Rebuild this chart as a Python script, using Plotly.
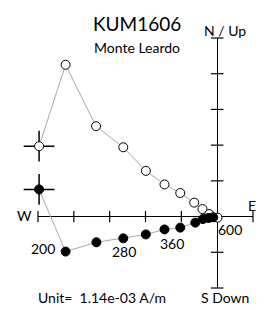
import plotly.graph_objects as go

# Horizontal projection (filled): East, North
h_east = [-4.97, -4.23, -3.37, -2.62, -1.99, -1.47, -1.03, -0.61, -0.40, -0.24, -0.11]
h_north = [0.76, -0.98, -0.72, -0.61, -0.50, -0.36, -0.31, -0.17, -0.07, -0.04, -0.02]
# Vertical projection (open): East, Up
v_east = [-4.97, -4.23, -3.38, -2.62, -1.99, -1.47, -1.03, -0.64, -0.41, -0.22, 0.01]
v_up = [1.97, 4.25, 2.53, 1.94, 1.28, 0.90, 0.66, 0.39, 0.21, 0.07, -0.03]

step_labels = ["200", "280", "360", "600"]
label_index = [1, 3, 5, 10]

x_ticks = [-5, -4, -3, -2, -1, 1]
y_ticks = [-2, -1, 1, 2, 3, 4, 5]

FONT = "Lato"
GRAY = "#b0a6a6"

fig = go.Figure()

# axis tick marks
fig.add_trace(go.Scatter(x=x_ticks, y=[0] * len(x_ticks), mode="markers",
                         marker=dict(symbol="line-ns", size=8, line=dict(color="black", width=1.2)),
                         cliponaxis=False, hoverinfo="skip"))
fig.add_trace(go.Scatter(x=[0] * len(y_ticks), y=y_ticks, mode="markers",
                         marker=dict(symbol="line-ew", size=9, line=dict(color="black", width=1.2)),
                         cliponaxis=False, hoverinfo="skip"))

# crosshairs on first points
fig.add_trace(go.Scatter(x=[h_east[0], v_east[0]], y=[h_north[0], v_up[0]], mode="markers",
                         marker=dict(symbol="cross-thin", size=22, line=dict(color="black", width=1.5)),
                         cliponaxis=False, hoverinfo="skip"))

# vertical projection (open)
fig.add_trace(go.Scatter(x=v_east, y=v_up, mode="lines+markers",
                         line=dict(color=GRAY, width=1),
                         marker=dict(symbol="circle", size=9, color="white",
                                     line=dict(color="black", width=1)),
                         cliponaxis=False))
# horizontal projection (filled)
fig.add_trace(go.Scatter(x=h_east, y=h_north, mode="lines+markers",
                         line=dict(color=GRAY, width=1),
                         marker=dict(symbol="circle", size=9, color="black",
                                     line=dict(color="black", width=1)),
                         cliponaxis=False))

annotations = []
offsets = [(-23, 3), (1, -13), (8, -14), (17, -12)]
for lab, idx, (dx, dy) in zip(step_labels, label_index, offsets):
    annotations.append(dict(x=h_east[idx], y=h_north[idx], text=lab, showarrow=False,
                            xshift=dx, yshift=dy, font=dict(family=FONT, size=14, color="black")))

def txt(x, y, t, size, xanchor="center"):
    annotations.append(dict(x=x, y=y, xref="paper", yref="paper", text=t, showarrow=False,
                            xanchor=xanchor, yanchor="middle", borderpad=0, borderwidth=0,
                            font=dict(family=FONT, size=size, color="black")))

txt(0.4605, 1.056, "KUM1606", 19)
txt(0.4605, 0.964, "Monte Leardo", 14)
txt(0.870, 1.028, "N / Up", 14)
txt(-0.065, 0.292, "W", 14)
txt(1.012, 0.33, "E", 14, xanchor="right")
txt(0.870, -0.036, "S Down", 14)
txt(0.298, -0.036, "Unit=&nbsp; 1.14e-03 A/m", 14)

fig.update_layout(
    width=256, height=302,
    margin=dict(l=30, r=11, t=30, b=22),
    paper_bgcolor="white", plot_bgcolor="white",
    showlegend=False,
    annotations=annotations,
    xaxis=dict(range=[-5, 1], showgrid=False, showticklabels=False, ticks="",
               zeroline=True, zerolinecolor="black", zerolinewidth=1.2, showline=False),
    yaxis=dict(range=[-2, 5], showgrid=False, showticklabels=False, ticks="",
               zeroline=True, zerolinecolor="black", zerolinewidth=1.2, showline=False),
)

fig.write_html("out.html")
